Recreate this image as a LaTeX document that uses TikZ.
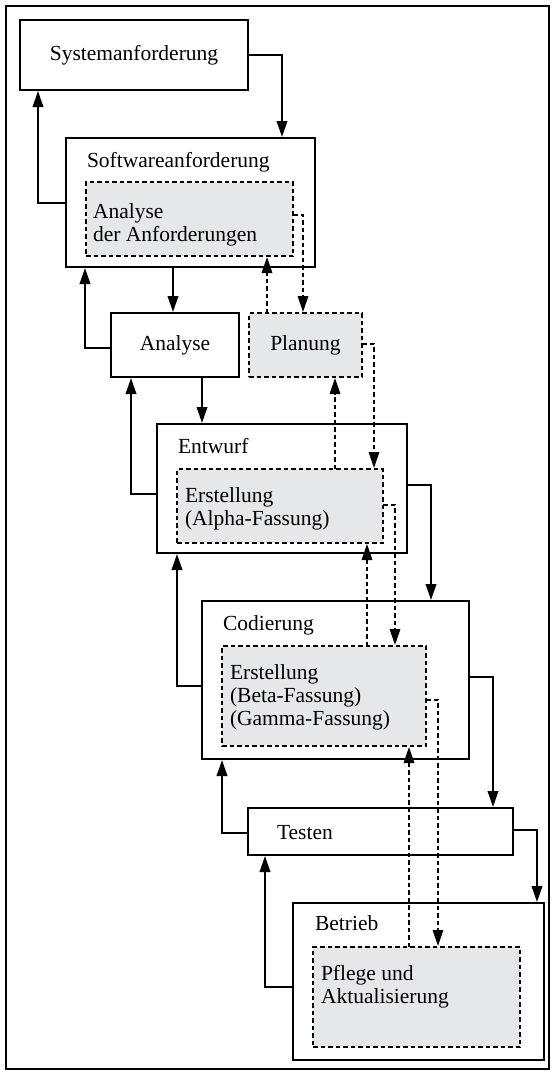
\documentclass[tikz,border=0pt]{standalone}
\usepackage{fontspec}
\setmainfont{Liberation Serif}
\usetikzlibrary{arrows.meta}
\tikzset{
  solidbox/.style={draw, line width=2.1pt, fill=white, inner sep=0pt, outer sep=0pt, anchor=north west},
  dashbox/.style={draw, line width=1.7pt, dash pattern=on 4.5pt off 3pt, fill=subgray, inner sep=0pt, outer sep=0pt, anchor=north west},
  lbl/.style={inner sep=0pt, outer sep=0pt, anchor=base west},
  flow/.style={line width=2.1pt, -{Triangle[length=16pt,width=10.5pt]}, shorten >=1pt},
  dflow/.style={line width=1.7pt, dash pattern=on 4.5pt off 3pt, -{Triangle[length=16pt,width=10.5pt]}, shorten >=1pt},
}
\definecolor{subgray}{HTML}{E6E7E8}
\begin{document}
\begin{tikzpicture}[x=1pt, y=-1pt, font=\fontsize{21.5}{23}\selectfont]
\useasboundingbox (0,0) rectangle (552,1074);
% outer frame
\draw[line width=2.8pt] (6,6) rectangle (549,1069);

% phase boxes
\node[solidbox, minimum width=228, minimum height=70] (sys) at (20,20) {};
\node[inner sep=0pt] (systxt) at (sys.center) {Systemanforderung};
\node[solidbox, minimum width=249, minimum height=129] (sw) at (66,138) {};
\node[solidbox, minimum width=128, minimum height=64] (ana) at (111,313) {};
\node[inner sep=0pt] (anatxt) at (ana.center) {Analyse};
\node[solidbox, minimum width=250, minimum height=129] (ent) at (157,424) {};
\node[solidbox, minimum width=267, minimum height=158] (cod) at (202,601) {};
\node[solidbox, minimum width=265, minimum height=47] (tst) at (248,808) {};
\node[solidbox, minimum width=251, minimum height=157] (bet) at (293,903) {};

% activity boxes
\node[dashbox, minimum width=207, minimum height=74] (aa) at (86,182) {};
\node[dashbox, minimum width=113, minimum height=64] (pla) at (249,313) {};
\node[inner sep=0pt] (platxt) at (pla.center) {Planung};
\node[dashbox, minimum width=206, minimum height=74] (alp) at (177,469) {};
\node[dashbox, minimum width=204, minimum height=100] (bg) at (222,646) {};
\node[dashbox, minimum width=207, minimum height=100] (pfl) at (313,947) {};

% labels
\node[lbl] (swtxt) at (87,167) {Softwareanforderung};
\node[lbl] (aa1) at (93,218) {Analyse};
\node[lbl] (aa2) at (93,241) {der Anforderungen};
\node[lbl] (enttxt) at (178,453) {Entwurf};
\node[lbl] (alp1) at (185,502) {Erstellung};
\node[lbl] (alp2) at (185,525) {(Alpha-Fassung)};
\node[lbl] (codtxt) at (223,630) {Codierung};
\node[lbl] (bg1) at (230,679) {Erstellung};
\node[lbl] (bg2) at (230,702) {(Beta-Fassung)};
\node[lbl] (bg3) at (230,725) {(Gamma-Fassung)};
\node[lbl] (tsttxt) at (277,839) {Testen};
\node[lbl] (bettxt) at (315,930) {Betrieb};
\node[lbl] (pfl1) at (321,980) {Pflege und};
\node[lbl] (pfl2) at (321,1003) {Aktualisierung};

% forward flow
\draw[flow] (sys.east) -| ([xshift=-33pt]sw.north east);
\draw[flow] ([xshift=107pt]sw.south west) -- ([xshift=62pt]ana.north west);
\draw[flow] ([xshift=91pt]ana.south west) -- ([xshift=45pt]ent.north west);
\draw[flow] ([yshift=-61pt]ent.north east) -| ([xshift=-38pt]cod.north east);
\draw[flow] ([yshift=-76pt]cod.north east) -| ([xshift=-20pt]tst.north east);
\draw[flow] ([yshift=-22pt]tst.north east) -| ([xshift=-7pt]bet.north east);

% feedback flow
\draw[flow] ([yshift=-65pt]sw.north west) -| ([xshift=18pt]sys.south west);
\draw[flow] ([yshift=-35pt]ana.north west) -| ([xshift=19pt]sw.south west);
\draw[flow] ([yshift=-70pt]ent.north west) -| ([xshift=20pt]ana.south west);
\draw[flow] ([yshift=-85pt]cod.north west) -| ([xshift=20pt]ent.south west);
\draw[flow] ([yshift=-25pt]tst.north west) -| ([xshift=20pt]cod.south west);
\draw[flow] ([yshift=-84pt]bet.north west) -| ([xshift=17pt]tst.south west);

% activity flow
\draw[dflow] ([yshift=-33pt]aa.north east) -| ([xshift=54pt]pla.north west);
\draw[dflow] ([xshift=18pt]pla.north west) -- ([xshift=181pt]aa.south west);
\draw[dflow] ([yshift=-31pt]pla.north east) -| ([xshift=197pt]alp.north west);
\draw[dflow] ([xshift=158pt]alp.north west) -- ([xshift=86pt]pla.south west);
\draw[dflow] ([yshift=-36pt]alp.north east) -| ([xshift=173pt]bg.north west);
\draw[dflow] ([xshift=145pt]bg.north west) -- ([xshift=190pt]alp.south west);
\draw[dflow] ([yshift=-54pt]bg.north east) -| ([xshift=125pt]pfl.north west);
\draw[dflow] ([xshift=96pt]pfl.north west) -- ([xshift=187pt]bg.south west);
\end{tikzpicture}
\end{document}
